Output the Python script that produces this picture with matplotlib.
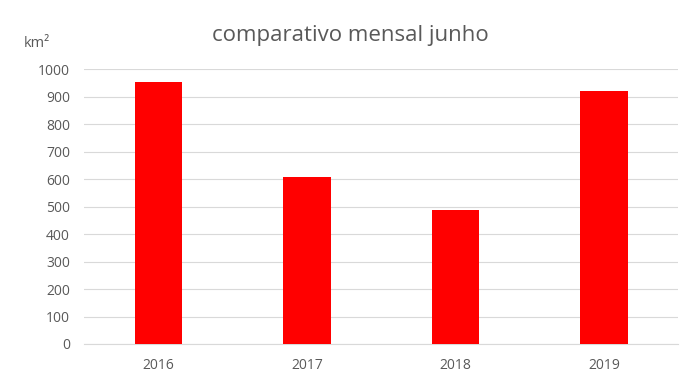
import matplotlib
matplotlib.use("Agg")
import matplotlib.pyplot as plt

years = ["2016", "2017", "2018", "2019"]
values = [955, 608, 489, 922]
yticks = [0, 100, 200, 300, 400, 500, 600, 700, 800, 900, 1000]

plt.rcParams['font.family'] = ['Open Sans', 'DejaVu Sans']
fig = plt.figure(figsize=(7, 3.9), dpi=100)
ax = fig.add_axes([0.12, 0.118, 0.849, 0.704])
x = range(len(years))
ax.bar(x, values, width=0.32, color="#ff0000", zorder=3)
ax.set_xlim(-0.5, 3.5)
ax.set_ylim(0, 1000)
ax.set_yticks(yticks)
ax.set_xticks(list(x))
ax.set_xticklabels(years)
ax.grid(axis='y', color="#d9d9d9", linewidth=0.8, zorder=0)
for s in ["top", "right", "left"]:
    ax.spines[s].set_visible(False)
ax.spines["bottom"].set_color("#d9d9d9")
ax.tick_params(axis='both', length=0, colors="#595959", labelsize=10)
ax.tick_params(axis='x', pad=10)
ax.tick_params(axis='y', pad=10)
fig.text(0.5, 0.908, "comparativo mensal junho", ha='center', va='center',
         fontsize=16, color="#595959")
fig.text(0.052, 0.888, "km²", ha='center', va='center', fontsize=10.5, color="#595959")
fig.savefig("out.png", dpi=100)
